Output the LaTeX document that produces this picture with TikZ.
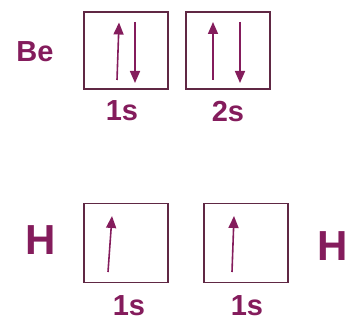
\documentclass[tikz,border=0pt]{standalone}
\usepackage{fontspec}
\setmainfont{Liberation Sans}
\usetikzlibrary{arrows.meta, positioning}
\definecolor{spinpurple}{RGB}{132, 28, 92}
\definecolor{boxdark}{RGB}{96, 40, 68}

\tikzset{
  orbbox/.style={draw=boxdark, line width=1.5pt, minimum width=84pt, minimum height=77pt, inner sep=0pt},
  orblabel/.style={text=spinpurple, font=\bfseries\fontsize{29}{29}\selectfont, inner sep=0pt},
  atomlabel/.style={text=spinpurple, inner sep=0pt},
  spin/.style={draw=spinpurple, line width=1.6pt, -{Triangle[length=12pt, width=10pt]}}
}

\begin{document}
\begin{tikzpicture}[x=1pt, y=-1pt]
  \useasboundingbox (0, 0) rectangle (354, 321);

  % Beryllium
  \node[atomlabel, font=\bfseries\fontsize{29}{29}\selectfont] (be) at (35, 52) {Be};
  \node[orbbox] (be1s) at (126, 50.5) {};
  \node[orbbox] (be2s) at (228, 50.5) {};
  \node[orblabel, below=11pt of be1s.south, xshift=-4pt] (lbe1s) {1s};
  \node[orblabel, below=11pt of be2s.south] (lbe2s) {2s};

  \draw[spin] ([xshift=-9pt, yshift=-29.5pt]be1s.center) -- ([xshift=-7pt, yshift=28pt]be1s.center);
  \draw[spin] ([xshift=9pt, yshift=28.5pt]be1s.center) -- ([xshift=9pt, yshift=-32.5pt]be1s.center);
  \draw[spin] ([xshift=-15pt, yshift=-29.5pt]be2s.center) -- ([xshift=-15pt, yshift=28.5pt]be2s.center);
  \draw[spin] ([xshift=12pt, yshift=28.5pt]be2s.center) -- ([xshift=12pt, yshift=-32.5pt]be2s.center);

  % Hydrogen
  \node[atomlabel, font=\bfseries\fontsize{42}{42}\selectfont] (hl) at (41, 240) {H};
  \node[atomlabel, font=\bfseries\fontsize{42}{42}\selectfont] (hr) at (333, 246) {H};
  \node[orbbox, minimum height=79pt] (h1s) at (126, 243) {};
  \node[orbbox, minimum height=79pt] (h2s) at (246, 243) {};
  \node[orblabel, below=12pt of h1s.south, xshift=3pt] (lh1s) {1s};
  \node[orblabel, below=12pt of h2s.south, xshift=1pt] (lh2s) {1s};

  \draw[spin] ([xshift=-18pt, yshift=-29pt]h1s.center) -- ([xshift=-14pt, yshift=27pt]h1s.center);
  \draw[spin] ([xshift=-14pt, yshift=-29pt]h2s.center) -- ([xshift=-12pt, yshift=27pt]h2s.center);
\end{tikzpicture}
\end{document}
